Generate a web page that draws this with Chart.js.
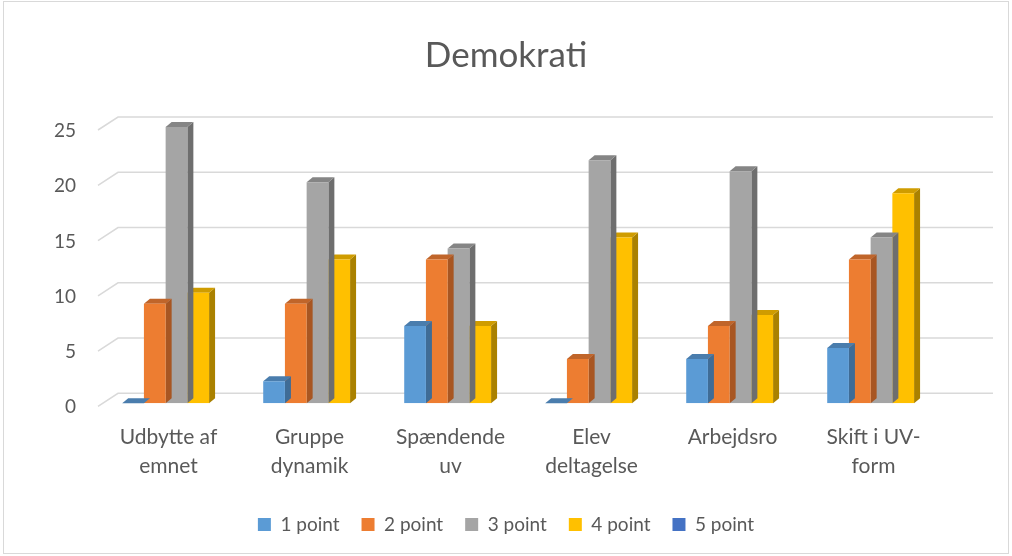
<!DOCTYPE html>
<html>
<head>
<meta charset="utf-8">
<script src="https://cdn.jsdelivr.net/npm/chart.js@4.4.0/dist/chart.umd.min.js"></script>
<style>
  html, body { margin: 0; padding: 0; background: #fff; }
  #wrap { width: 1012px; height: 556px; }
</style>
</head>
<body>
<div id="wrap"><canvas id="chart" width="1012" height="556"></canvas></div>
<script>
const categories = [['Udbytte af', 'emnet'], ['Gruppe', 'dynamik'], ['Spændende', 'uv'], ['Elev', 'deltagelse'], 'Arbejdsro', ['Skift i UV-', 'form']];
const seriesNames = ['1 point', '2 point', '3 point', '4 point', '5 point'];
const point1 = [0, 2, 7, 0, 4, 5];
const point2 = [9, 9, 13, 4, 7, 13];
const point3 = [25, 20, 14, 22, 21, 15];
const point4 = [10, 13, 7, 15, 8, 19];
const point5 = [null, null, null, null, null, null];
const yMin = 0, yMax = 25, yStep = 5;

const frontColors = ['#5B9BD5', '#ED7D31', '#A5A5A5', '#FFC000', '#4472C4'];
const topColors = ['#4A7DAD', '#C0652A', '#858585', '#CF9C00', '#375C9F'];
const sideColors = ['#3F6C96', '#A85622', '#6E6E6E', '#AA8100', '#2F5089'];
const DX = 6, DY = 5;
const FONT = 'Lato';
const TEXT = '#595959';

// back wall + floor edge grid lines (Excel style 3d)
const grid3d = {
  id: 'grid3d',
  beforeDatasetsDraw(chart) {
    const ctx = chart.ctx;
    const yScale = chart.scales.y;
    const area = chart.chartArea;
    ctx.save();
    ctx.strokeStyle = '#D9D9D9';
    ctx.lineWidth = 1.5;
    yScale.ticks.forEach(t => {
      const yy = yScale.getPixelForValue(t.value);
      ctx.beginPath();
      ctx.moveTo(area.left - 8, yy + 3);
      ctx.lineTo(area.left + 12, yy - 10);
      ctx.lineTo(area.right + 41, yy - 10);
      ctx.stroke();
    });
    ctx.restore();
  }
};

// sides and tops of the columns, drawn before each dataset's front faces
const bars3d = {
  id: 'bars3d',
  beforeDatasetDraw(chart, args) {
    const ctx = chart.ctx;
    const i = args.index;
    ctx.save();
    args.meta.data.forEach((bar, j) => {
      const v = chart.data.datasets[i].data[j];
      if (v === null || v === undefined) return;
      const {x, y, base, width} = bar.getProps(['x', 'y', 'base', 'width'], true);
      const l = x - width / 2, r = x + width / 2;
      ctx.fillStyle = sideColors[i];
      ctx.beginPath();
      ctx.moveTo(r, y);
      ctx.lineTo(r + DX, y - DY);
      ctx.lineTo(r + DX, base - DY);
      ctx.lineTo(r, base);
      ctx.closePath();
      ctx.fill();
      ctx.fillStyle = topColors[i];
      ctx.beginPath();
      ctx.moveTo(l, y);
      ctx.lineTo(l + DX, y - DY);
      ctx.lineTo(r + DX, y - DY);
      ctx.lineTo(r, y);
      ctx.closePath();
      ctx.fill();
    });
    ctx.restore();
  }
};

const outerBorder = {
  id: 'outerBorder',
  afterDraw(chart) {
    const ctx = chart.ctx;
    ctx.save();
    ctx.strokeStyle = '#D9D9D9';
    ctx.lineWidth = 1;
    ctx.strokeRect(3.5, 1.5, chart.width - 7, chart.height - 4);
    ctx.restore();
  }
};

const seriesData = [point1, point2, point3, point4, point5];

new Chart(document.getElementById('chart'), {
  type: 'bar',
  data: {
    labels: categories,
    datasets: seriesNames.map((name, i) => ({
      label: name,
      data: seriesData[i],
      backgroundColor: frontColors[i],
      borderWidth: 0,
      barPercentage: 1,
      categoryPercentage: 0.77
    }))
  },
  options: {
    responsive: false,
    animation: false,
    layout: { padding: { left: 0, right: 0, top: 0, bottom: 12 } },
    plugins: {
      title: {
        display: true,
        text: 'Demokrati',
        color: TEXT,
        font: { family: FONT, size: 35, weight: 'normal' },
        padding: { top: 35, bottom: 50 }
      },
      legend: {
        position: 'bottom',
        labels: {
          color: TEXT,
          font: { family: FONT, size: 19 },
          boxWidth: 13,
          boxHeight: 13,
          padding: 22
        }
      },
      tooltip: { enabled: false }
    },
    scales: {
      x: {
        grid: { display: false, drawTicks: false },
        border: { display: false },
        afterFit(scale) { scale.height = scale.height - 7; },
        ticks: {
          color: TEXT,
          font: { family: FONT, size: 21, lineHeight: 1.35 },
          padding: 20,
          labelOffset: -8,
          maxRotation: 0,
          autoSkip: false
        }
      },
      y: {
        min: yMin,
        max: yMax,
        grid: { display: false, drawTicks: false },
        border: { display: false },
        afterFit(scale) { scale.width = 106; },
        ticks: {
          stepSize: yStep,
          color: TEXT,
          font: { family: FONT, size: 19 },
          padding: 30,
          labelOffset: 4
        }
      },
      // empty right gutter so the columns stop where the reference does
      yRight: {
        position: 'right',
        grid: { display: false, drawTicks: false },
        border: { display: false },
        ticks: { display: false },
        afterFit(scale) { scale.width = 60; }
      }
    }
  },
  plugins: [grid3d, bars3d, outerBorder]
});
</script>
</body>
</html>
